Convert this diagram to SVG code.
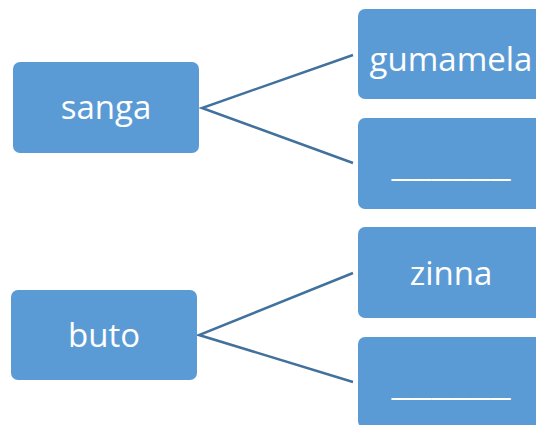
<svg xmlns="http://www.w3.org/2000/svg" width="536" height="425" viewBox="0 0 536 425">
<style>
.box{fill:#5B9BD5;}
.lbl{font-family:"Open Sans","Noto Sans",sans-serif;font-size:33px;fill:#FFFFFF;text-anchor:middle;}
.con{stroke:#41719C;stroke-width:2.5;fill:none;}
</style>
<rect width="536" height="425" fill="#FFFFFF"/>
<g id="connectors">
<polyline class="con" points="353,55 202,108 353,163"/>
<polyline class="con" points="353,273 199,335 353,382"/>
</g>
<g id="sanga"><rect class="box" x="13" y="62" width="186" height="91" rx="7"/><text class="lbl" x="106" y="119">sanga</text></g>
<g id="gumamela"><rect class="box" x="358" y="9" width="186" height="90" rx="7"/><text class="lbl" x="451" y="71">gumamela</text></g>
<g id="blank1"><rect class="box" x="358" y="118" width="186" height="91" rx="7"/><text class="lbl" x="451" y="176" textLength="119" lengthAdjust="spacingAndGlyphs">______</text></g>
<g id="buto"><rect class="box" x="11" y="290" width="186" height="90" rx="7"/><text class="lbl" x="104" y="347">buto</text></g>
<g id="zinna"><rect class="box" x="358" y="227" width="186" height="91" rx="7"/><text class="lbl" x="451" y="285">zinna</text></g>
<g id="blank2"><rect class="box" x="358" y="337" width="186" height="91" rx="7"/><text class="lbl" x="451" y="395" textLength="119" lengthAdjust="spacingAndGlyphs">______</text></g>
</svg>
